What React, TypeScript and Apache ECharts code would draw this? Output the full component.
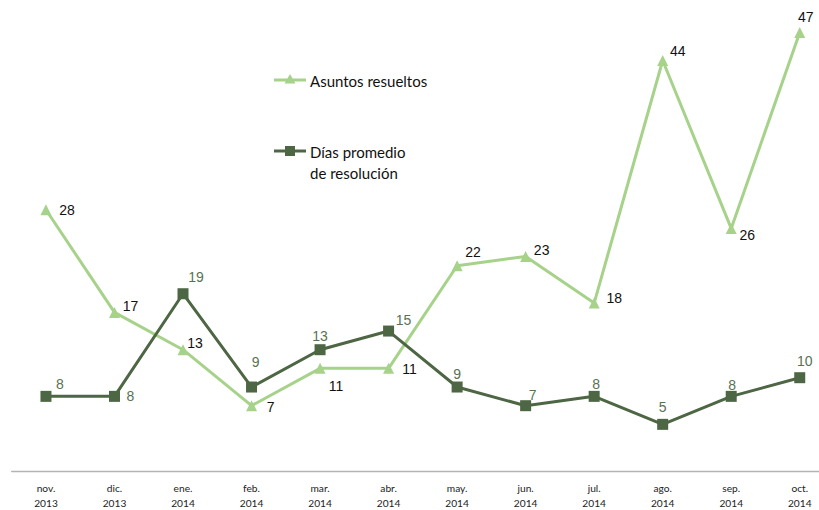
import React, { useEffect, useRef } from "react";
import * as echarts from "echarts";

const months = ["nov.\n2013", "dic.\n2013", "ene.\n2014", "feb.\n2014", "mar.\n2014", "abr.\n2014", "may.\n2014", "jun.\n2014", "jul.\n2014", "ago.\n2014", "sep.\n2014", "oct.\n2014"];
const asuntosResueltos = [28, 17, 13, 7, 11, 11, 22, 23, 18, 44, 26, 47];
const diasPromedio = [8, 8, 19, 9, 13, 15, 9, 7, 8, 5, 8, 10];
const asuntosLabelOffsets = [[21, 0], [16, -6], [12, -7], [19, 1], [16, 18], [21, 1], [16, -14], [16, -6], [20, -5], [15, -9], [16, 7], [6, -15]];
const diasLabelOffsets = [[14, -12], [16, 0], [13, -17], [4, -25], [0, -14], [15, -11], [0, -13], [7, -11], [2, -12], [0, -17], [1, -11], [5, -17]];

const LIGHT = "#a6d28a";
const DARK = "#4d6643";
const DARK_LABEL = "#587252";
const LEGEND_FONT = "15px Lato, sans-serif";

export default function App() {
  const ref = useRef<HTMLDivElement>(null);
  useEffect(() => {
    const chart = echarts.init(ref.current!, null, { renderer: "svg" });
    chart.setOption({
      animation: false,
      grid: { left: 11.7, right: 0, top: 4.5, bottom: 34 },
      xAxis: {
        type: "category",
        data: months,
        boundaryGap: true,
        axisLine: { lineStyle: { color: "#b3b3b3", width: 1.3 } },
        axisTick: { show: false },
        axisLabel: { color: "#222", fontFamily: "Lato", fontSize: 10.2, lineHeight: 15, margin: 9, interval: 0 },
      },
      yAxis: { type: "value", min: 0, max: 50, show: false, splitLine: { show: false } },
      series: [
        {
          name: "Asuntos resueltos",
          type: "line",
          data: asuntosResueltos.map((v, i) => ({ value: v, label: { offset: asuntosLabelOffsets[i] } })),
          symbol: "triangle",
          symbolSize: 11,
          lineStyle: { color: LIGHT, width: 3 },
          itemStyle: { color: LIGHT },
          label: { show: true, position: "inside", color: "#111", fontFamily: "Liberation Sans", fontSize: 14 },
        },
        {
          name: "Días promedio de resolución",
          type: "line",
          data: diasPromedio.map((v, i) => ({ value: v, label: { offset: diasLabelOffsets[i] } })),
          symbol: "rect",
          symbolSize: 11,
          lineStyle: { color: DARK, width: 3 },
          itemStyle: { color: DARK },
          label: { show: true, position: "inside", color: DARK_LABEL, fontFamily: "Liberation Sans", fontSize: 14 },
        },
      ],
      graphic: [
        { type: "line", shape: { x1: 274, y1: 80, x2: 306, y2: 80 }, style: { stroke: LIGHT, lineWidth: 3 } },
        { type: "polygon", shape: { points: [[290, 74], [284.5, 83.5], [295.5, 83.5]] }, style: { fill: LIGHT } },
        { type: "text", x: 310, y: 81, style: { text: "Asuntos resueltos", fill: "#111", font: LEGEND_FONT, verticalAlign: "middle" } },
        { type: "line", shape: { x1: 274, y1: 151, x2: 306, y2: 151 }, style: { stroke: DARK, lineWidth: 3 } },
        { type: "rect", shape: { x: 285, y: 146, width: 10, height: 10 }, style: { fill: DARK } },
        { type: "text", x: 310, y: 152, style: { text: "Días promedio", fill: "#111", font: LEGEND_FONT, verticalAlign: "middle" } },
        { type: "text", x: 310, y: 173, style: { text: "de resolución", fill: "#111", font: LEGEND_FONT, verticalAlign: "middle" } },
      ],
    });
    return () => chart.dispose();
  }, []);
  return (
    <div style={{ width: 819, height: 510, position: "absolute", left: 0, top: 0, overflow: "hidden" }}>
      <div ref={ref} style={{ width: 834.3, height: 510 }} />
    </div>
  );
}
